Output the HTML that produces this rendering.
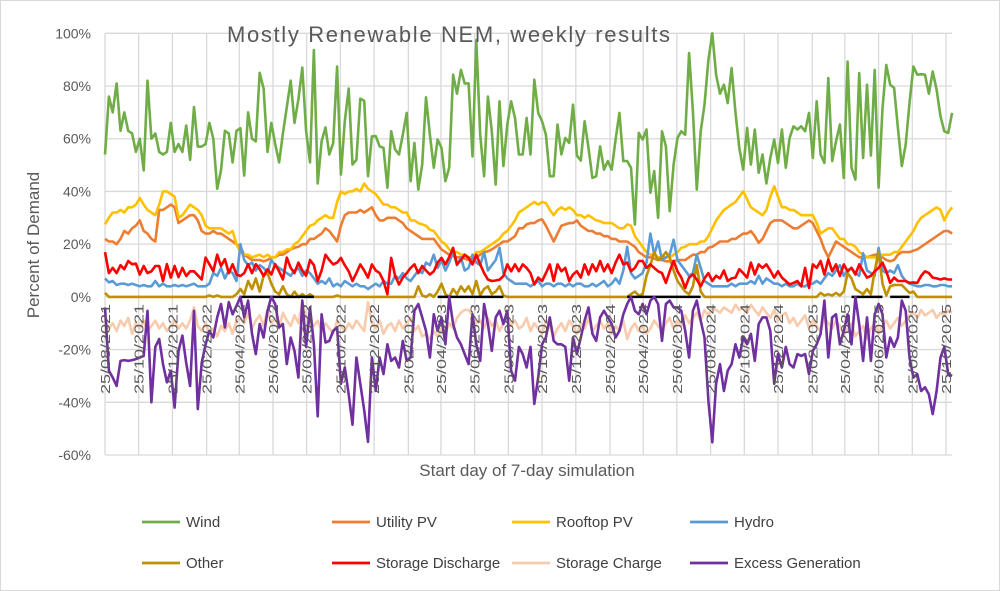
<!DOCTYPE html>
<html><head><meta charset="utf-8"><style>
html,body{margin:0;padding:0;background:#fff;}
svg{display:block;font-family:"Liberation Sans",sans-serif;}
</style></head><body>
<svg id="chart" width="1000" height="591" viewBox="0 0 1000 591" xmlns="http://www.w3.org/2000/svg">
<rect x="0.5" y="0.5" width="999" height="590" fill="#fff" stroke="#d9d9d9"/>
<g id="grid"></g>
<g id="series"></g>
<text x="227" y="42" font-size="22" fill="#595959" textLength="443">Mostly Renewable NEM, weekly results</text>
<g id="yticks"></g>
<g id="xticks"></g>
<text transform="translate(39,245) rotate(-90)" text-anchor="middle" font-size="17" fill="#595959">Percent of Demand</text>
<text x="527" y="476" text-anchor="middle" font-size="17" fill="#595959">Start day of 7-day simulation</text>
<g id="legend"></g>
</svg>
<script>
const startDate = [2021, 7, 25];
const yTickValues = [100, 80, 60, 40, 20, 0, -20, -40, -60];
const xTickCount = 26;
const seriesNames = ["Wind","Utility PV","Rooftop PV","Hydro","Other","Storage Discharge","Storage Charge","Excess Generation"];
const wind = [54,76,70,81,63,70,63,62,55,60, 48,82,60,62,55,54,55,66,55,58, 55,65,52,72,57,57,58,66,60,41, 48,63,62,51,63,64,46,70,60,59, 85,79,55,66,58,51,62,72,82,66, 75,87,63,51,
93.7,43,59,64.3,54,58.4,87.4,46.4,66.6,79, 50.2,52,75.2,74.4,45.8,60.9,61,57.1,56.5,41.4, 62.8,55.9,54,61.5,69.8,43.9,58.4,40.7,50.2,75.7, 61.5,49,59.7,56.5,43.9,49,84.3,77.1,86.1,81, 81,53.3,97.5,61.5,45.8,76,62.8,42.6,74.2,49.6, 65.4,74.2,67.9,54,
54,67.9,54,82.4,69.8,66.6,61.5,45.8,45.8,65.4, 54,60.3,58.4,72.9,53.6,51.7,66.6,56.5,45.1,45.8, 57.1,48.3,51.5,48.3,59.7,69.8,51.5,51.5,49,27.4, 62.2,59.7,63.5,39.5,47.7,30,62.8,57.1,32.5,50.2, 60.3,62.8,61.5,92.5,70.4,40.7,62.8,72.9,89.9,100, 84.3,77.1,80.5,73.5,86.8,
69.8,56.5,48.3,64.1,50.2,63.5,47.1,54,43,52.7, 59.7,50.8,63.5,49,60.3,64.7,63.5,64.7,62.8,69.8, 52.7,74.2,54,50.8,83,51.5,59,65.4,45.1,89.3, 49,44.5,84.9,52.7,80.5,53.6,86.1,41.4,71.6,88, 80.5,79.3,64.1,49.6,57.8,73.5,87.4,84.3,84.5,84.3, 77.1,85.5,78.6,68.5,62.8,62.2,69.8];
const utilityPV = [22,21,21,20,22,25,24,26,27,29, 25,24,22,21,33,33,34,35,34,28, 29,30,31,31,29,25,24,24,25,24, 24,23,22,21,20,19,16,15,14,14, 14,13.5,14,15,15,16,16,17,18,18.6, 19,20,20,22,22,23,24,26,25,23,
21,27,31,32,32,32,33,32,33,34, 31,29,29,30,30,30,29,28,26,25, 24,23,22,22,22,22,20,18,17,16, 15.5,15,15,14.5,14,14,15,16,17,17.3, 18,19,20,21,21,22,23,26,26,27.5,
28,28,29,29.4,27,24,21,24,27,27.5, 28,28,29,27,26,25,25,24,24,23, 23,22,22,21,21,21,20,19,17,16, 15,15,14.5,14,14,13.5,13.5,13.5,14,14, 14,15,16,16,17,17,18.6,19,20,21,
21,21,22,22,23,24,24,25,23,20.5, 22,25,28,29,29,29,28,27,26,26, 27,28,29,28,25,22,18,15,18,21, 20,19,18,17,16,15,15,15,15.5,16, 16,15,14,13.5,14,16,17,17,17,17.5, 18,19,20,21,22,23,24,25,25,24];
const rooftopPV = [27.5,30,32,32,33,32,34,34,35,37.5, 35,33,32,31,35,40,40,39,38,30, 31,33,35,34,33,31,27,26,26,26, 26,25,24,25,20,17,16,16,15,15.5, 16,15,16,15,15,17,17,18,18,20, 21,23,25,27,27.5,29,30,31,30,30,
36,40,39,40,40,41,40,43,41,40, 39,37,35,35,34,34,33,32,32,29, 29,28,27.5,27,25.5,25,23,21,20,18, 17,17,16,16,15,15,17,17,18,19, 20,21,22,24,25,27,29,32,33,34,
35,36,35,36,35.6,33,31,33,34,33, 34,33,31,31,30,31,30,29,28.7,28, 28,28,27,26,26,27.5,27,23,21,19, 17,16,16,15,15,15,15,16,17,18.6, 19,20,20,20,21,21,23,26,29,31,
33,34,35,36,38,40,37,34,33,32, 31,33,38,42,38,34,34,33,33,32, 31,31,31,31,28,24,25,26,26,24, 22,22,20,20,19,17,16,15,15,15, 15,16,16,16,17,17,19,21,23,25, 28,30,31,32,33,34,33,29,32,34];
const hydro = [7,5.5,6,4.5,5,5,4.5,5,4.5,4, 4.5,4,4,6,4,5,4,4,4.5,4, 4.5,4,4.5,5,4,4,4,5,9,8, 11,7,10,9,6,20,14,12,13,10, 12,11,9,14,12,11,10,9,8,10, 11,8,10,9,
7,5,6,5,7,4,5,4,6,5, 4,5,4,4,3,4,5,4,6,5, 5,8,7,9,7,6,8,10,9,13, 12,16,11,14,10,13,17,12,15,10, 11,16,13,12,17,10,12,14,18.6,9, 7,6,5,5,
5,5,4,5,6,4,5,5,4,5, 5,4,5,4,5,5,4,4,5,4, 5,6,4,5,7,5,10,19,9,7, 8,9,13,24,16,21,14,15,16,21.7, 14,12,10,8,9,16,11,6,5,4, 4,4,4,4,5,
4,5,5,5,6,5,8,5,7,6, 5,5,4,5,4,4,5,4,4,5, 5,6,5,7,9,8,10,12,8,10, 11,9,8,16.6,10,9,8,18.6,10,9, 10,9,12,8,6,5,4.5,4,4,4.5, 4.5,4,4,4.5,4.5,4,4];
const other = [1.5,0,0,0,0,0,0,0,0,0, 0,0,0,0,0,0,0,0,0,0, 0,0,0,0,0,0,0,0.5,0,0.5, 0,0,0,0,1,3,1,6,3,7, 2,8,9,5,2,1,4,1,0,2, 0,1,0,1,
0,0,0,0,0,0,0.5,0,0,0, 0,0,0,0,0,0,0,0,0,0, 0,0,0,0,0,0,0,4,0.5,0, 1,0,2,5,1,0,3,1,4,2, 4,1,6,0.5,3,4,1,2,4,0.5, 0,0,0,0,
0,0,0,0,0,0,0,0,0,0, 0,0,0,0,0,0,0,0,0,0, 0,0,0,0,0,0,0,0,1,2, 0.5,1,8,12,17,14,15,17,15,10, 6,4,2,1,4,12,2,0,0,0, 0,0,0,0,0,
0,0,0,0,0,0,0,0,0,0, 0,0,0,0,0,0,0,0,0,0, 0,0,1.5,0.5,1,0.5,1.5,0.5,2,9, 7,3,2,1,3,1,10,17,5,0.5, 4,4.5,4.5,4.5,3,1.5,2,0,0,0, 0,0,0,0,0,0,0];
const storageDischarge = [17,9,11,9,12,10.5,13.6,12.4,12.6,8.5, 11.7,9,9.7,11.7,11.7,6,12.4,7.3,11.7,7.5, 11,7.9,9.7,9.7,8.2,6.6,14.9,12.4,9.7,16, 11.7,14.3,9,12.4,8.5,7.9,9,12.4,9,12.4, 10.5,7.9,10.5,8.5,12.4,9.7,6.6,14.9,11,9, 13,10,8,14,
12,6,10,16,14,12.3,13,14.8,12,9.7, 6,9,12.3,10,7.3,12.3,10,9,6,1, 14.8,8,4.7,7.3,9,11,12.3,9,11.7,10, 8.5,9.7,13,14.8,12.3,15,18.6,12.3,14,16, 14.8,12.3,16,12.3,9,6.6,6,6.2,6.5,7.9, 12.3,9.7,12.3,9.7,
12.3,11,9,4.7,7.3,6,9,12.3,6,12.3, 9.7,11,6,8.5,9.7,7.3,12.3,8.5,12.3,9.7, 13.6,9.7,12.3,9,13,16,12.3,13,9.7,11, 13.6,13.6,11,12.3,11,9.7,9,5.3,9.7,13.6, 9.7,7.3,3.4,7.3,8.5,6.6,4,7,9,6, 8,7,10,6,7,
7.3,10.5,9,7.3,13,8.5,12.3,11,12.3,10, 7.3,9.7,7.3,6,4.7,5.3,6,4,11,3.4, 12.3,11,13.6,8.5,14.2,9.7,12.3,7.9,12.3,9.7, 11,8.5,12.3,9.7,7.3,8,9.7,11,13,9.7, 5.3,7.3,6,6,6,5.3,5.5,5.3,7.9,9.7, 9,7.3,7,6.6,7,6.6,6.6];
const storageCharge = [-9,-12,-10,-13,-9,-11,-8,-14,-10,-12, -9,-13,-11,-9,-12,-10,-13,-11,-9,-12, -10,-12,-9,-4,-11,-13,-10,-14,-12,-15, -11,-13,-10,-14,-9,-8,-10,-6,-12,-9, -7,-11,-5,-10,-8,-12,-6,-9,-11,-7, -10,-2,-8,-10,
-11,-9,-13,-10,-12,-14,-9,-11,-13,-10, -12,-9,-11,-13,-2,-10,-12,-9,-14,-11, -10,-13,-9,-12,-10,-8,-13,-11,-15,-14, -16,-13,-15,-12,-14,-10,-12,-8,-6,-5, -5,-7,-10,-9,-12,-8,-11,-9,-13,-10, -8,-11,-9,-12,
-11,-8,-13,-10,-12,-14,-9,-11,-15,-12, -10,-13,-9,-11,-14,-10,-12,-8,-13,-11, -9,-12,-10,-14,-11,-13,-9,-16,-12,-10, -13,-11,-14,-12,-9,-11,-13,-10,-8,-12, -9,-11,-7,-10,-8,-6,-9,-5,-7,-4, -5,-6,-4,-5,-6,
-3,-5,-4,-6,-3,-5,-7,-4,-6,-8, -5,-9,-7,-6,-10,-8,-11,-9,-7,-12, -9,-11,-13,-8,-10,-12,-9,-11,-14,-12, -10,-15,-13,-11,-16,-12,-10,-14,-11,-9, -12,-10,-8,-11,-9,-7,-6,-8,-5,-7, -6,-5,-8,-6,-7,-5,-6];
const excessGeneration = [-4,-28,-30.6,-33.8,-24.3,-24,-24.3,-24,-23.6,-23, -22.4,-5.3,-40,-19,-16,-25.5,-32.4,-28,-42,-20.5, -14.7,-25,-33.8,-5.3,-42.6,-25,-18,-12.9,-15.4,-7.8, -2.7,-11.6,-2,-6.6,-3.4,0,-7.8,-1.4,-14,-21.7, -10.3,-15.4,-5.3,0,-2.7,-11.6,-10.3,-25.5,-15.4,-20.5, -30.6,-1.4,-19,
-4,-18,-45.3,-6.6,-17.3,-16.7,-12.9,-11.6,-33,-26.8, -37,-48.5,-23,-33,-43,-55,-23,-35.7,-23,-29.3, -18,-24.3,-23,-26.8,-16.7,-24.3,-23,-5.3,-2.7,-7.8, -12.9,-23,-6.6,-12.9,-7.8,-18,0,-10.3,-15.4,-18, -21.7,-25.5,-6.6,-18,-24.3,-2.7,-10.3,-20.5,-7.8,-5.3, -10.3,-5.3,-28,-31.8,-19,
-21.7,-26.8,-19,-40.6,-30.6,-18,-15.4,-7.8,-16.7,-18, -18,-19,-31.8,-15.4,-21.7,-15.4,-9,-4,-14,-16.7, -7.8,-5.3,-7.8,-10.3,-15.4,-12.9,-6.6,-2.7,0,-5.3, -6.6,-2.7,-6.6,-1.4,0,-2.7,-16.7,-2.7,-1.4,-4, -4,-5.3,-12.9,-23,-5.3,-1.4,-9,-15.4,-39.4,-55.2, -33,-25.5,-35.7,-28,-25.5,
-18,-23,-15.4,-18,-14,-24.3,-10.3,-7.8,-7.8,-12.9, -33,-21.7,-26.8,-19,-25.5,-26.8,-21.7,-22.4,-21.7,-29.3, -20.5,-18,-14,-1.4,-23,-7.8,-6.6,-18,-12.9,-6.6, -18,0,-10.3,-24.3,-7.8,-24.3,-6.6,-2.7,-6.6,-23, -15.4,-19,-15.4,-1.4,-5.3,-23,-30.6,-29.3,-35.7,-34.3, -37,-44.5,-35.7,-23,-19,-29.3,-30];
const shortfallWeekRanges = [[35,54],[86,103],[135,154],[193,201],[203,208]];

const NS = "http://www.w3.org/2000/svg";
const plot = {left:105, right:952, top:33.3, bottom:455};
const yMin = -60, yMax = 100;
const pxPerDay = (946 - 105) / 1522;
function yScale(v){ return plot.bottom - (v - yMin) / (yMax - yMin) * (plot.bottom - plot.top); }
const t0 = Date.UTC(startDate[0], startDate[1], startDate[2]);
function xDays(d){ return plot.left + d * pxPerDay; }
function xWeek(i){ return xDays(i * 7); }
function mk(tag, attrs, parent){ const e = document.createElementNS(NS, tag); for (const k in attrs) e.setAttribute(k, attrs[k]); parent.appendChild(e); return e; }

const grid = document.getElementById('grid');
yTickValues.forEach(v => {
  const l = mk('line', {x1:plot.left, x2:plot.right, y1:yScale(v), y2:yScale(v), stroke:'#d9d9d9', 'stroke-width':1.3}, grid);
  
  
  const t = mk('text', {x:91, y:yScale(v)+5, 'text-anchor':'end', 'font-size':14, fill:'#595959'}, document.getElementById('yticks'));
  
  
  t.textContent = v + '%';
});
for (let k = 0; k < xTickCount; k++) {
  const m = startDate[1] + 2*k;
  const dt = Date.UTC(startDate[0] + Math.floor(m/12), m % 12, startDate[2]);
  const days = Math.round((dt - t0) / 86400000);
  const x = xDays(days);
  const l = mk('line', {x1:x, x2:x, y1:plot.top, y2:plot.bottom, stroke:'#d9d9d9', 'stroke-width':1.3}, grid);
  
  
  const d = new Date(dt);
  const label = String(d.getUTCDate()).padStart(2,'0') + '/' + String(d.getUTCMonth()+1).padStart(2,'0') + '/' + d.getUTCFullYear();
  const t = mk('text', {transform:'translate(' + (x+5) + ',304) rotate(-90)', 'text-anchor':'end', 'font-size':13, fill:'#595959', textLength:90, lengthAdjust:'spacingAndGlyphs'}, document.getElementById('xticks'));
  
  
  t.textContent = label;
}

const colors = ['#70AD47','#ED7D31','#FFC000','#5B9BD5','#BF9000','#FF0000','#F8CBAD','#7030A0'];
const seriesData = [wind, utilityPV, rooftopPV, hydro, other, storageDischarge, storageCharge, excessGeneration];
const seriesKeys = ['wind','utility-pv','rooftop-pv','hydro','other','storage-discharge','storage-charge','excess-generation'];
const sg = document.getElementById('series');
function drawSeries(idx){
  const vals = seriesData[idx];
  const pts = vals.map((v,i) => xWeek(i).toFixed(1) + ',' + yScale(v).toFixed(1)).join(' ');
  const p = mk('polyline', {points:pts, fill:'none', stroke:colors[idx], 'stroke-width':2.6, 'stroke-linejoin':'round'}, sg);
  
  
}
[6,0,1,2,3,4].forEach(drawSeries);
shortfallWeekRanges.forEach(r => {
  const l = mk('line', {x1:xWeek(r[0]), x2:xWeek(r[1]), y1:yScale(0), y2:yScale(0), stroke:'#000', 'stroke-width':2.6}, sg);
  
  
});
[5,7].forEach(drawSeries);

const lg = document.getElementById('legend');
const colX = [186, 376, 556, 734];
const rowY = [522, 563];
seriesNames.forEach((name, i) => {
  const tx = colX[i % 4], ty = rowY[Math.floor(i/4)];
  const g = mk('g', {}, lg);
  
  
  mk('line', {x1:tx-44, x2:tx-6, y1:ty, y2:ty, stroke:colors[i], 'stroke-width':2.8}, g);
  const t = mk('text', {x:tx, y:ty+5, 'font-size':15, fill:'#404040'}, g);
  t.textContent = name;
});
</script>
</body></html>
